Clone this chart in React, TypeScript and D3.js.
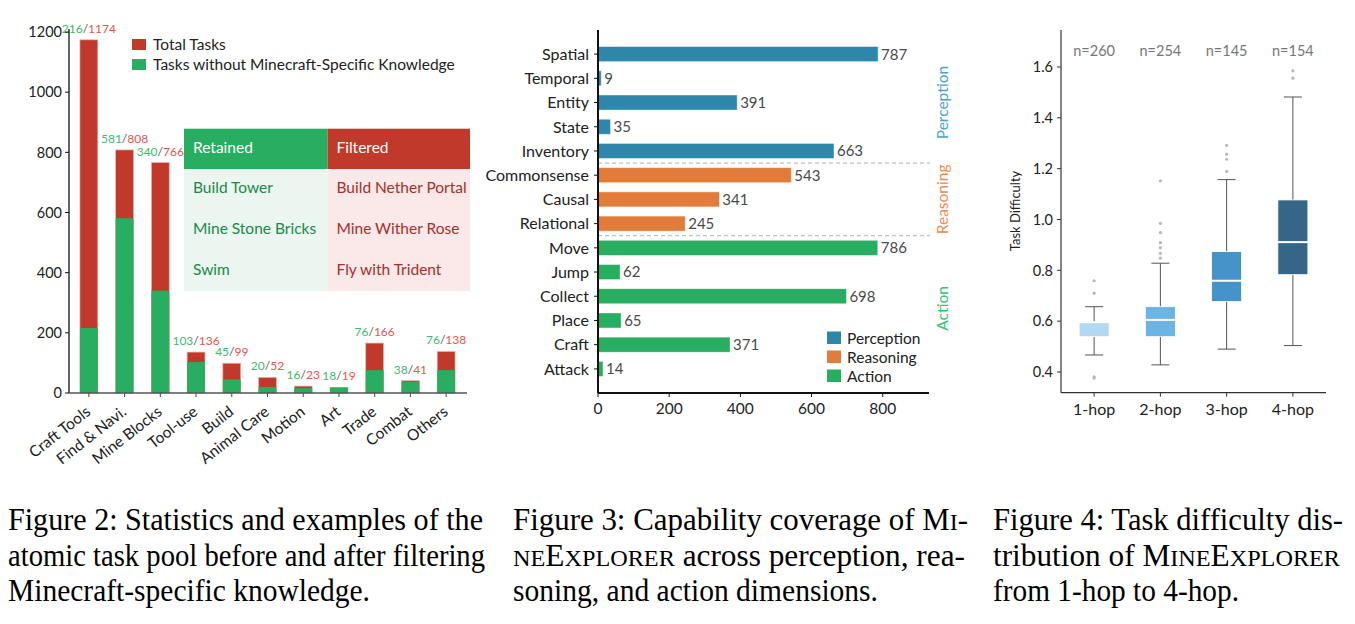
import React from "react";
import * as d3 from "d3";

// ---- Figure 2: atomic task pool ----
const taskCategories = ["Craft Tools", "Find & Navi.", "Mine Blocks", "Tool-use", "Build", "Animal Care", "Motion", "Art", "Trade", "Combat", "Others"];
const totalTasks = [1174, 808, 766, 136, 99, 52, 23, 19, 166, 41, 138];
const retainedTasks = [216, 581, 340, 103, 45, 20, 16, 18, 76, 38, 76];
const countTicks = [0, 200, 400, 600, 800, 1000, 1200];
const retainedExamples = ["Build Tower", "Mine Stone Bricks", "Swim"];
const filteredExamples = ["Build Nether Portal", "Mine Wither Rose", "Fly with Trident"];

// ---- Figure 3: capability coverage ----
const capabilities = ["Spatial", "Temporal", "Entity", "State", "Inventory", "Commonsense", "Causal", "Relational", "Move", "Jump", "Collect", "Place", "Craft", "Attack"];
const capabilityCounts = [787, 9, 391, 35, 663, 543, 341, 245, 786, 62, 698, 65, 371, 14];
const capabilityGroup = ["Perception", "Perception", "Perception", "Perception", "Perception", "Reasoning", "Reasoning", "Reasoning", "Action", "Action", "Action", "Action", "Action", "Action"];
const groupNames = ["Perception", "Reasoning", "Action"];
const coverageTicks = [0, 200, 400, 600, 800];

// ---- Figure 4: task difficulty ----
const hopLabels = ["1-hop", "2-hop", "3-hop", "4-hop"];
const hopCounts = [260, 254, 145, 154];
const hopQ1 = [0.539, 0.539, 0.677, 0.783];
const hopMedian = [0.596, 0.605, 0.759, 0.911];
const hopQ3 = [0.596, 0.657, 0.874, 1.077];
const hopLow = [0.467, 0.428, 0.49, 0.504];
const hopHigh = [0.657, 0.828, 1.157, 1.482];
const hopOutliers = [
  [0.759, 0.71, 0.381, 0.376],
  [0.848, 0.867, 0.889, 0.909, 0.948, 0.985, 1.152],
  [1.189, 1.237, 1.257, 1.292],
  [1.556, 1.585],
];
const difficultyTicks = [0.4, 0.6, 0.8, 1.0, 1.2, 1.4, 1.6];

// captions: [text, smallcaps?]
const caption2 = [
  [["Figure 2: Statistics and examples of the", false]],
  [["atomic task pool before and after filtering", false]],
  [["Minecraft-specific knowledge.", false]],
];
const caption3 = [
  [["Figure 3: Capability coverage of M", false], ["I", true], ["-", false]],
  [["NE", true], ["E", false], ["XPLORER", true], [" across perception, rea-", false]],
  [["soning, and action dimensions.", false]],
];
const caption4 = [
  [["Figure 4: Task difficulty dis-", false]],
  [["tribution of M", false], ["INE", true], ["E", false], ["XPLORER", true]],
  [["from 1-hop to 4-hop.", false]],
];

const FONT = "Lato, 'Open Sans', sans-serif";
const SERIF = "Liberation Serif, Times New Roman, serif";
const GREEN = "#27ae60";
const RED = "#c0392b";
const groupColor: Record<string, string> = { Perception: "#2e86ab", Reasoning: "#e27c3a", Action: "#27ae60" };
const groupText: Record<string, string> = { Perception: "#4aa3d0", Reasoning: "#ee8a4d", Action: "#37c46d" };
const hopColors = ["#b4d8f2", "#6cb4e4", "#4693c9", "#366687"];

function TaskPool() {
  const x = d3.scaleBand<string>().domain(taskCategories).range([71, 464]).paddingInner(0.5).paddingOuter(0.25);
  const y = d3.scaleLinear().domain([0, 1200]).range([393, 32]);
  const bw = x.bandwidth();
  const tl = 184, tm = 327.5, tr = 470, tt = 128.7, th = 169, tb = 291;
  return (
    <g fontFamily={FONT}>
      {taskCategories.map((c, i) => {
        const bx = x(c)!;
        return (
          <g key={c}>
            <rect x={bx} y={y(totalTasks[i])} width={bw} height={y(0) - y(totalTasks[i])} fill={RED} stroke="#eeb3ab" strokeWidth={0.7} />
            <rect x={bx} y={y(retainedTasks[i])} width={bw} height={y(0) - y(retainedTasks[i])} fill={GREEN} />
            <text x={bx + bw / 2} y={y(totalTasks[i]) - 7} textAnchor="middle" fontSize={12}>
              <tspan fill="#3dbb6e">{retainedTasks[i]}</tspan>
              <tspan fill="#555">/</tspan>
              <tspan fill="#e4574a">{totalTasks[i]}</tspan>
            </text>
            <line x1={bx + bw / 2} x2={bx + bw / 2} y1={y(0)} y2={y(0) + 4} stroke="#444" />
            <text transform={`translate(${bx + bw / 2 - 4},${y(0) + 12}) rotate(-38)`} textAnchor="end" dy="0.71em" fontSize={15.5} fill="#222">{c}</text>
          </g>
        );
      })}
      <line x1={69} x2={69} y1={y(0)} y2={29} stroke="#111" strokeWidth={1.3} />
      <line x1={69} x2={467} y1={y(0)} y2={y(0)} stroke="#555" strokeWidth={1.3} />
      {countTicks.map((t) => (
        <g key={t}>
          <line x1={65} x2={69} y1={y(t)} y2={y(t)} stroke="#111" />
          <text x={62} y={y(t)} dy="0.36em" textAnchor="end" fontSize={14.5} fill="#222">{t}</text>
        </g>
      ))}
      {/* legend */}
      <rect x={132} y={39} width={14} height={11} fill={RED} />
      <text x={153} y={50} fontSize={15.5} fill="#222">Total Tasks</text>
      <rect x={132} y={59} width={14} height={11} fill={GREEN} />
      <text x={153} y={70} fontSize={15.5} fill="#222">Tasks without Minecraft-Specific Knowledge</text>
      {/* example table */}
      <rect x={tl} y={tt} width={tm - tl} height={th - tt} fill={GREEN} />
      <rect x={tm} y={tt} width={tr - tm} height={th - tt} fill={RED} />
      <rect x={tl} y={th} width={tm - tl} height={tb - th} fill="#eaf6ef" />
      <rect x={tm} y={th} width={tr - tm} height={tb - th} fill="#fbe8e8" />
      <text x={tl + 9} y={153} fontSize={15.5} fill="#fff">Retained</text>
      <text x={tm + 9} y={153} fontSize={15.5} fill="#fff">Filtered</text>
      {retainedExamples.map((t, i) => (
        <text key={t} x={tl + 9} y={193 + i * 41} fontSize={15.5} fill="#23874b">{t}</text>
      ))}
      {filteredExamples.map((t, i) => (
        <text key={t} x={tm + 9} y={193 + i * 41} fontSize={15.5} fill="#a3322a">{t}</text>
      ))}
    </g>
  );
}

function Coverage() {
  const x = d3.scaleLinear().domain([0, 930]).range([598, 929]);
  const y = d3.scaleBand<string>().domain(capabilities).range([42, 381]).paddingInner(0.38).paddingOuter(0.19);
  const bh = y.bandwidth();
  const step = y.step();
  const groupSpan = (g: string) => {
    const items = capabilities.filter((_, i) => capabilityGroup[i] === g);
    const first = y(items[0])! + bh / 2;
    const last = y(items[items.length - 1])! + bh / 2;
    return { first, last, mid: (first + last) / 2 };
  };
  return (
    <g fontFamily={FONT}>
      {capabilities.map((c, i) => (
        <g key={c}>
          <rect x={x(0)} y={y(c)} width={x(capabilityCounts[i]) - x(0)} height={bh} fill={groupColor[capabilityGroup[i]]} stroke="#ffffff" strokeOpacity={0.5} strokeWidth={0.8} />
          <text x={x(capabilityCounts[i]) + 3} y={y(c)! + bh / 2} dy="0.36em" fontSize={15} fill="#4a4a4a">{capabilityCounts[i]}</text>
          <line x1={x(0) - 4} x2={x(0)} y1={y(c)! + bh / 2} y2={y(c)! + bh / 2} stroke="#111" />
          <text x={x(0) - 9} y={y(c)! + bh / 2} dy="0.36em" textAnchor="end" fontSize={16} fill="#222">{c}</text>
        </g>
      ))}
      {groupNames.slice(1).map((g) => {
        const yy = groupSpan(g).first - step / 2;
        return <line key={g} x1={x(0)} x2={930} y1={yy} y2={yy} stroke="#b0b0b0" strokeDasharray="4,3" strokeWidth={1} />;
      })}
      {groupNames.map((g) => (
        <text key={g} transform={`translate(948,${groupSpan(g).mid}) rotate(-90)`} textAnchor="middle" fontSize={15.5} fill={groupText[g]}>{g}</text>
      ))}
      <line x1={x(0)} x2={x(0)} y1={30} y2={393} stroke="#111" strokeWidth={2} />
      <line x1={x(0)} x2={929} y1={393} y2={393} stroke="#111" strokeWidth={2} />
      {coverageTicks.map((t) => (
        <g key={t}>
          <line x1={x(t)} x2={x(t)} y1={393} y2={397} stroke="#111" />
          <text x={x(t)} y={414} textAnchor="middle" fontSize={15.5} fill="#222">{t}</text>
        </g>
      ))}
      {groupNames.map((g, i) => (
        <g key={g}>
          <rect x={827} y={331.5 + i * 19} width={14} height={12.5} fill={groupColor[g]} />
          <text x={847} y={343.5 + i * 19} fontSize={15.5} fill="#222">{g}</text>
        </g>
      ))}
    </g>
  );
}

function Difficulty() {
  const x = d3.scaleBand<string>().domain(hopLabels).range([1061, 1326]);
  const y = d3.scaleLinear().domain([0.4, 1.6]).range([372, 67]);
  const bw = 30;
  const cap = 18;
  return (
    <g fontFamily={FONT}>
      {hopLabels.map((h, i) => {
        const cx = x(h)! + x.bandwidth() / 2;
        return (
          <g key={h}>
            <line x1={cx} x2={cx} y1={y(hopHigh[i])} y2={y(hopQ3[i])} stroke="#555" />
            <line x1={cx} x2={cx} y1={y(hopQ1[i])} y2={y(hopLow[i])} stroke="#555" />
            <line x1={cx - cap / 2} x2={cx + cap / 2} y1={y(hopHigh[i])} y2={y(hopHigh[i])} stroke="#555" />
            <line x1={cx - cap / 2} x2={cx + cap / 2} y1={y(hopLow[i])} y2={y(hopLow[i])} stroke="#555" />
            <rect x={cx - bw / 2} y={y(hopQ3[i])} width={bw} height={y(hopQ1[i]) - y(hopQ3[i])} fill={hopColors[i]} stroke="#fff" strokeWidth={0.8} />
            <line x1={cx - bw / 2} x2={cx + bw / 2} y1={y(hopMedian[i])} y2={y(hopMedian[i])} stroke="#fff" strokeWidth={2} />
            {hopOutliers[i].map((o, j) => (
              <circle key={j} cx={cx} cy={y(o)} r={1.6} fill="#b8b8b8" />
            ))}
            <text x={cx} y={56} textAnchor="middle" fontSize={14.5} fill="#777">n={hopCounts[i]}</text>
            <line x1={cx} x2={cx} y1={392.7} y2={396.7} stroke="#333" />
            <text x={cx} y={415} textAnchor="middle" fontSize={16} fill="#222">{h}</text>
          </g>
        );
      })}
      <line x1={1061} x2={1061} y1={30} y2={392.7} stroke="#333" strokeWidth={1.2} />
      <line x1={1061} x2={1326} y1={392.7} y2={392.7} stroke="#333" strokeWidth={1.2} />
      {difficultyTicks.map((t) => (
        <g key={t}>
          <line x1={1057} x2={1061} y1={y(t)} y2={y(t)} stroke="#333" />
          <text x={1053} y={y(t)} dy="0.36em" textAnchor="end" fontSize={14.5} fill="#222">{t.toFixed(1)}</text>
        </g>
      ))}
      <text transform="translate(1020,211) rotate(-90)" textAnchor="middle" fontSize={13} fill="#222">Task Difficulty</text>
    </g>
  );
}

function Caption({ lines, x, ends }: { lines: any[][]; x: number; ends: number[] }) {
  const baselines = [530, 565.5, 601];
  return (
    <g fontFamily={SERIF} fill="#000">
      {lines.map((segs, i) => (
        <text key={i} x={x} y={baselines[i]} fontSize={31} textLength={ends[i] - x} lengthAdjust="spacingAndGlyphs">
          {segs.map(([t, sc]: [string, boolean], j: number) => (
            <tspan key={j} fontSize={sc ? 24 : 31}>{t}</tspan>
          ))}
        </text>
      ))}
    </g>
  );
}

export default function App() {
  return (
    <div style={{ position: "absolute", left: 0, top: 0 }}>
      <svg width={1355} height={624} style={{ display: "block", background: "#fff" }}>
        <TaskPool />
        <Coverage />
        <Difficulty />
        <Caption lines={caption2} x={8} ends={[483, 485, 370]} />
        <Caption lines={caption3} x={513} ends={[968, 965, 878]} />
        <Caption lines={caption4} x={993} ends={[1343, 1340, 1239]} />
      </svg>
    </div>
  );
}
